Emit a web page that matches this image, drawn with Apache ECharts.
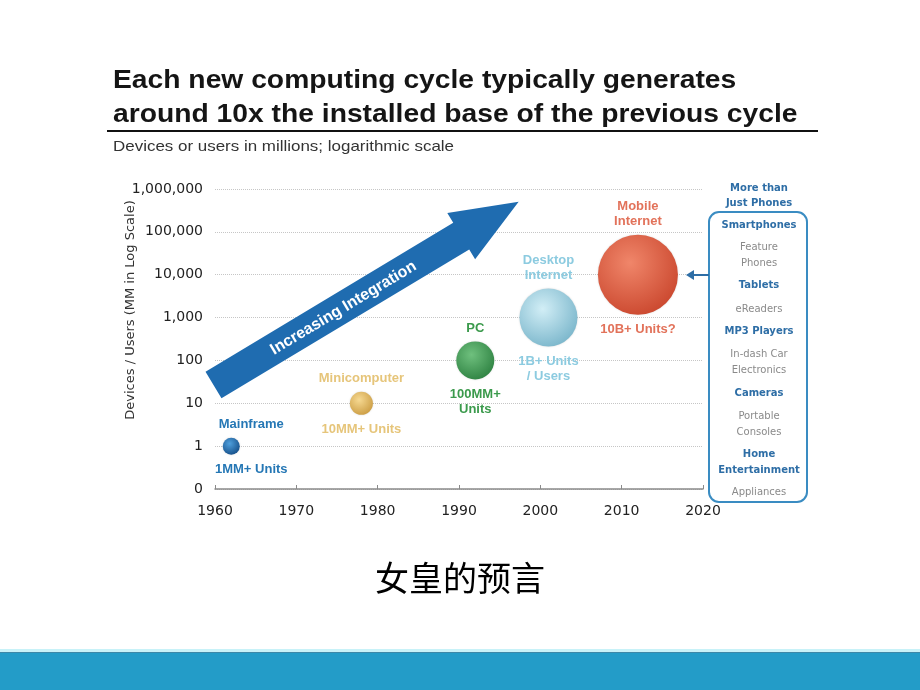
<!DOCTYPE html>
<html>
<head>
<meta charset="utf-8">
<script src="https://cdn.jsdelivr.net/npm/echarts@6/dist/echarts.min.js"></script>
<style>
html,body{margin:0;padding:0;background:#fff;}
#chart{width:920px;height:690px;}
</style>
</head>
<body>
<div id="chart"></div>
<script>
// ---- data ----
const cycleNames = ['Mainframe', 'Minicomputer', 'PC', 'Desktop\nInternet', 'Mobile\nInternet'];
const unitLabels = ['1MM+ Units', '10MM+ Units', '100MM+\nUnits', '1B+ Units\n/ Users', '10B+ Units?'];
const years = [1962, 1978, 1992, 2001, 2012];
const installedBase = [1, 10, 100, 1000, 10000]; // millions
const xTicks = [1960, 1970, 1980, 1990, 2000, 2010, 2020];
const yTickLabels = ['0', '1', '10', '100', '1,000', '10,000', '100,000', '1,000,000'];
const boxTitle = ['More than', 'Just Phones'];
const boxItems = ['Smartphones', 'Feature\nPhones', 'Tablets', 'eReaders', 'MP3 Players',
  'In-dash Car\nElectronics', 'Cameras', 'Portable\nConsoles', 'Home\nEntertainment', 'Appliances'];
const boxItemHighlighted = [true, false, true, false, true, false, true, false, true, false];

// ---- styles ----
const bubbleStyle = [
  {size: 17, light: '#4f9fdc', dark: '#124a84', label: '#2577b5', offset: [20, 0]},
  {size: 23, light: '#f6d992', dark: '#c9993e', label: '#e6c57a', offset: [0, 0]},
  {size: 38, light: '#6fc07e', dark: '#2a7e3e', label: '#3b9a4c', offset: [0, 0]},
  {size: 58, light: '#d2eef6', dark: '#74b2c8', label: '#8ccbe0', offset: [0, 0]},
  {size: 80, light: '#f0866a', dark: '#c8432a', label: '#e2725a', offset: [0, 0]}
];
const boxYs = [225, 255, 285, 309, 331, 362, 393, 424, 462, 492];

const data = years.map((y, i) => [y, installedBase[i]]);

function grad(s) {
  return {
    type: 'radial', x: 0.4, y: 0.35, r: 0.75,
    colorStops: [{offset: 0, color: s.light}, {offset: 1, color: s.dark}]
  };
}

// ---- decorative arrow geometry ----
const ang = 31 * Math.PI / 180;
const u = [Math.cos(ang), -Math.sin(ang)];
const n = [Math.sin(ang), Math.cos(ang)];
const T = [213.5, 385];
function pt(t, s) { return [T[0] + u[0] * t + n[0] * s, T[1] + u[1] * t + n[1] * s]; }
const arrowPts = [pt(0, 15.5), pt(0, -15.5), pt(289, -15.5), pt(289, -27), pt(356, 0), pt(289, 27), pt(289, 15.5)];
const textPos = pt(151, 1);

const graphics = [
  {type: 'text', x: 113, y: 81, scaleX: 1.13, style: {text: 'Each new computing cycle typically generates', font: 'bold 25px "Liberation Sans", Arial, sans-serif', fill: '#151515', verticalAlign: 'middle'}},
  {type: 'text', x: 113, y: 115, scaleX: 1.13, style: {text: 'around 10x the installed base of the previous cycle', font: 'bold 25px "Liberation Sans", Arial, sans-serif', fill: '#151515', verticalAlign: 'middle'}},
  {type: 'line', shape: {x1: 107, y1: 131, x2: 818, y2: 131}, style: {stroke: '#111', lineWidth: 2}},
  {type: 'text', x: 113, y: 147, scaleX: 1.13, style: {text: 'Devices or users in millions; logarithmic scale', font: '15px "Liberation Sans", Arial, sans-serif', fill: '#333', verticalAlign: 'middle'}},
  {type: 'text', x: 131, y: 310, rotation: Math.PI / 2, style: {text: 'Devices / Users (MM in Log Scale)', font: '13px "DejaVu Sans", sans-serif', fill: '#333', align: 'center', verticalAlign: 'middle'}},
  {type: 'polygon', shape: {points: arrowPts}, style: {fill: '#1f6cb0'}, z: 1},
  {type: 'text', x: textPos[0], y: textPos[1], rotation: ang, style: {text: 'Increasing Integration', font: 'bold 16px "Liberation Sans", Arial, sans-serif', fill: '#fff', align: 'center', verticalAlign: 'middle'}, z: 2},
  {type: 'rect', shape: {x: 709, y: 212, width: 98, height: 290, r: 10}, style: {fill: '#fff', stroke: '#3a8cc2', lineWidth: 2}, z: 5},
  {type: 'line', shape: {x1: 709, y1: 275, x2: 692, y2: 275}, style: {stroke: '#2e6ea6', lineWidth: 2}, z: 10},
  {type: 'polygon', shape: {points: [[686, 275], [694, 270], [694, 280]]}, style: {fill: '#2e6ea6'}, z: 10},
  {type: 'text', x: 759, y: 196, style: {text: boxTitle.join('\n'), font: 'bold 10px "DejaVu Sans", sans-serif', fill: '#2e6ea6', align: 'center', verticalAlign: 'middle', lineHeight: 15}, z: 10},
  {type: 'text', x: 460, y: 578, style: {text: '女皇的预言', font: '34px "Noto Sans CJK SC", sans-serif', fill: '#000', align: 'center', verticalAlign: 'middle'}},
  {type: 'rect', shape: {x: 0, y: 649, width: 920, height: 3}, style: {fill: '#c8f2f8'}},
  {type: 'rect', shape: {x: 0, y: 652, width: 920, height: 38}, style: {fill: '#239cc8'}},
  {type: 'rect', shape: {x: 0, y: 652, width: 920, height: 1}, style: {fill: '#3d88a8'}}
];
boxItems.forEach((t, i) => {
  graphics.push({type: 'text', x: 759, y: boxYs[i], z: 10, style: {
    text: t, align: 'center', verticalAlign: 'middle', lineHeight: 16,
    font: (boxItemHighlighted[i] ? 'bold ' : '') + '10px "DejaVu Sans", sans-serif',
    fill: boxItemHighlighted[i] ? '#2e6ea6' : '#8a8a8a'
  }});
});

const chart = echarts.init(document.getElementById('chart'));
chart.setOption({
  backgroundColor: '#fff',
  animation: false,
  grid: {left: 215, right: 217, top: 189, bottom: 201, containLabel: false},
  xAxis: {
    type: 'value', min: xTicks[0], max: xTicks[xTicks.length - 1], interval: 10,
    axisLine: {show: true, lineStyle: {color: '#8a8a8a', width: 1.5}},
    axisTick: {show: true, inside: true, length: 4, lineStyle: {color: '#8a8a8a'}},
    splitLine: {show: false},
    axisLabel: {margin: 15, color: '#222', fontSize: 14, fontFamily: 'DejaVu Sans', formatter: v => String(v)}
  },
  yAxis: {
    type: 'log', logBase: 10, min: 0.1, max: 1000000, splitNumber: 7,
    axisLine: {show: false}, axisTick: {show: false},
    splitLine: {show: true, lineStyle: {color: '#c6c6c6', type: 'dotted', width: 1}},
    axisLabel: {margin: 12, color: '#222', fontSize: 14, fontFamily: 'DejaVu Sans',
      formatter: v => {
        const k = Math.round(Math.log10(v)) + 1;
        return yTickLabels[k] !== undefined ? yTickLabels[k] : '';
      }}
  },
  graphic: graphics,
  series: [
    {
      type: 'scatter', clip: false, z: 3,
      data: data.map((d, i) => ({
        value: d, symbolSize: bubbleStyle[i].size,
        itemStyle: {color: grad(bubbleStyle[i]), opacity: 1, shadowBlur: 2, shadowColor: 'rgba(0,0,0,0.15)'},
        label: {show: true, position: 'top', distance: 6, offset: bubbleStyle[i].offset,
          formatter: () => cycleNames[i], color: bubbleStyle[i].label}
      })),
      label: {fontSize: 13, fontWeight: 'bold', fontFamily: '"Liberation Sans", Arial, sans-serif', lineHeight: 15, align: 'center'}
    },
    {
      type: 'scatter', clip: false, z: 3, silent: true,
      data: data.map((d, i) => ({
        value: d, symbolSize: bubbleStyle[i].size,
        itemStyle: {color: 'rgba(0,0,0,0)', opacity: 1},
        label: {show: true, position: 'bottom', distance: 7, offset: bubbleStyle[i].offset,
          formatter: () => unitLabels[i], color: bubbleStyle[i].label}
      })),
      label: {fontSize: 13, fontWeight: 'bold', fontFamily: '"Liberation Sans", Arial, sans-serif', lineHeight: 15, align: 'center'}
    }
  ]
});
</script>
</body>
</html>
